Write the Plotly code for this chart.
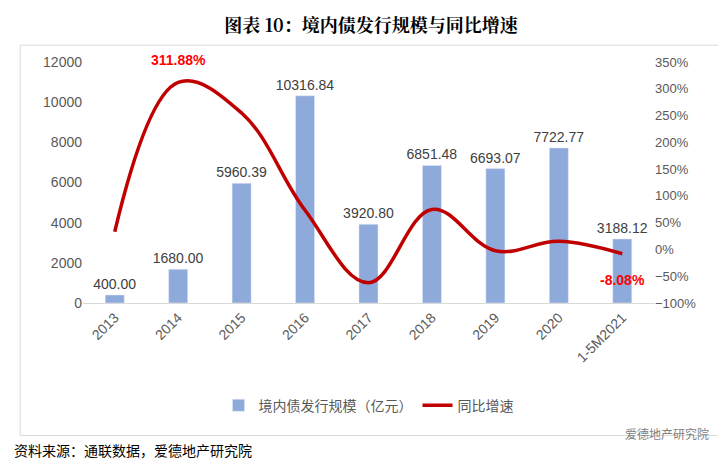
import plotly.graph_objects as go

years = ["2013", "2014", "2015", "2016", "2017", "2018", "2019", "2020", "1-5M2021"]
scale = [400.00, 1680.00, 5960.39, 10316.84, 3920.80, 6851.48, 6693.07, 7722.77, 3188.12]
growth = [33.0, 311.88, 254.77, 73.09, -62.0, 74.75, -2.31, 15.39, -8.08]

fig = go.Figure()
fig.add_trace(go.Bar(
    x=years, y=scale, name="境内债发行规模（亿元）", marker_color="#8eaadb", width=0.3,
    text=[f"{v:.2f}" for v in scale], textposition="outside", constraintext="none", textangle=0,
    textfont=dict(size=14, color="#404040", family="Liberation Sans"), cliponaxis=False,
))
fig.add_trace(go.Scatter(
    x=years, y=growth, name="同比增速", yaxis="y2", mode="lines",
    line=dict(color="#c00000", width=3.5, shape="spline", smoothing=1.1),
))
fig.add_annotation(x=1, y=growth[1], yref="y2", text="<b>311.88%</b>", showarrow=False,
                   yshift=22, font=dict(color="#ff0000", size=14, family="Liberation Sans"))
fig.add_annotation(x=8, y=growth[-1], yref="y2", text="<b>-8.08%</b>", showarrow=False,
                   yshift=-26, font=dict(color="#ff0000", size=14, family="Liberation Sans"))

fig.update_layout(
    width=726, height=475, paper_bgcolor="white", plot_bgcolor="white",
    font=dict(family="Liberation Sans, Noto Sans CJK SC", color="#595959", size=14),
    margin=dict(l=75, r=80, t=54, b=180),
    title=dict(text="<b>图表 10：境内债发行规模与同比增速</b>", x=0.5, y=0.975, xanchor="center",
               font=dict(size=18, color="#000000", family="Noto Serif CJK SC, Noto Sans CJK SC")),
    xaxis=dict(type="category", categoryorder="array", categoryarray=years, range=[-0.5, 8.5],
               tickangle=-45, showline=True, linecolor="#d9d9d9", ticks="", tickfont=dict(size=14)),
    yaxis=dict(range=[0, 12000], dtick=2000, tickformat="d", showgrid=False, showline=False,
               zeroline=False),
    yaxis2=dict(overlaying="y", side="right", range=[-100, 350], dtick=50, ticksuffix="%",
                showgrid=False, zeroline=False, tickfont=dict(size=13)),
    legend=dict(orientation="h", x=0.5, xanchor="center", y=-0.36, yanchor="top",
                font=dict(size=14, family="Noto Sans CJK SC")),
    showlegend=True,
)
fig.add_shape(type="rect", xref="paper", yref="paper", x0=-0.11, x1=1.115, y0=-0.55, y1=1.07,
              line=dict(color="#d9d9d9", width=1))
fig.add_annotation(xref="paper", yref="paper", x=-0.125, y=-0.66, xanchor="left", showarrow=False,
                   text="资料来源：通联数据，爱德地产研究院",
                   font=dict(size=14, color="#000000", family="Noto Sans CJK SC"))
fig.add_annotation(xref="paper", yref="paper", x=1.1, y=-0.585, xanchor="right", showarrow=False,
                   text="爱德地产研究院", font=dict(size=12, color="#7f7f7f", family="Noto Sans CJK SC"))
fig.write_html("out.html")
